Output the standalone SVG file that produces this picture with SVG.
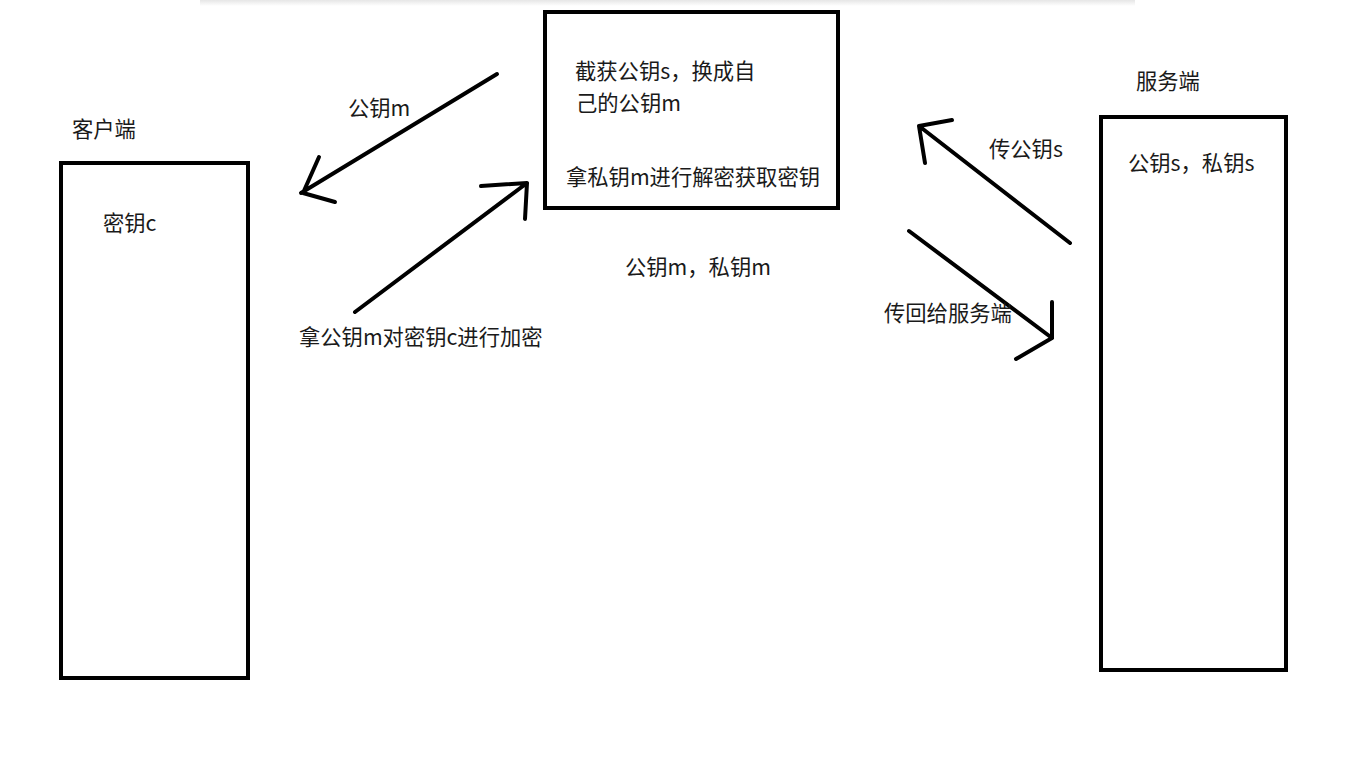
<svg xmlns="http://www.w3.org/2000/svg" width="1363" height="762" viewBox="0 0 1363 762">
<style>
.box{fill:#fff;stroke:#000;stroke-width:4}
.t{font-family:"Noto Sans CJK SC","Microsoft YaHei",sans-serif;font-size:21.3px;fill:#1a1a1a}
.c{fill:none;stroke:#000;stroke-width:4;stroke-linecap:round;stroke-linejoin:round}
</style>
<defs>
<linearGradient id="sh" x1="0" y1="0" x2="0" y2="1">
<stop offset="0" stop-color="#e6e6e6"/>
<stop offset="1" stop-color="#fff"/>
</linearGradient>
</defs>
<rect width="1363" height="762" fill="#fff"/>
<rect x="200" y="0" width="935" height="6" fill="url(#sh)"/>
<g id="client">
<rect class="box" x="61" y="163" width="187" height="515"/>
<text class="t" x="72" y="137">客户端</text>
<text class="t" x="103" y="231">密钥c</text>
</g>
<g id="attacker">
<rect class="box" x="545" y="12" width="293" height="196"/>
<text class="t" x="575" y="79">截获公钥s，换成自</text>
<text class="t" x="576" y="111">己的公钥m</text>
<text class="t" x="566" y="185">拿私钥m进行解密获取密钥</text>
</g>
<g id="attacker-keys">
<text class="t" x="625" y="275">公钥m，私钥m</text>
</g>
<g id="server">
<rect class="box" x="1101" y="117" width="185" height="553"/>
<text class="t" x="1136" y="89">服务端</text>
<text class="t" x="1128" y="171">公钥s，私钥s</text>
</g>
<g id="connectors">
<path class="c" d="M497 74 L301 193 M319 157 L303 193 L335 202"/>
<text class="t" x="348" y="116">公钥m</text>
<path class="c" d="M355 312 L527 183 M481 186 L527 183 L525 219"/>
<text class="t" x="299" y="345">拿公钥m对密钥c进行加密</text>
<path class="c" d="M1070 243 L919 126 M952 120 L919 126 L925 163"/>
<text class="t" x="989" y="157">传公钥s</text>
<path class="c" d="M909 231 L1052 338 M1052 302 L1052 338 L1016 359"/>
<text class="t" x="884" y="321">传回给服务端</text>
</g>
</svg>
